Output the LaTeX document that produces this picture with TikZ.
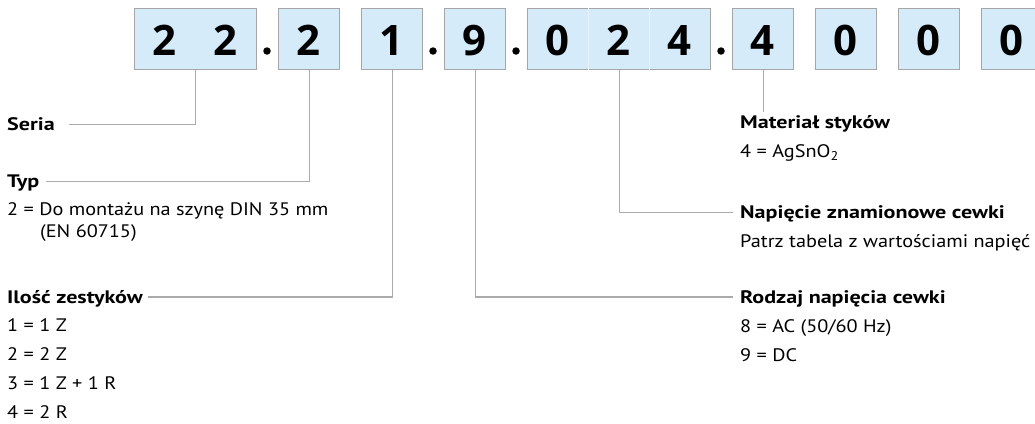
\documentclass[tikz,border=0pt]{standalone}
\usepackage{fontspec}
\setmainfont{PT Sans}
\newfontfamily\labfont{PT Sans}[FakeStretch=1.12]
\newfontfamily\headfont{PT Sans}[FakeStretch=1.22]
\newfontfamily\digitfont{Open Sans}
\definecolor{boxfill}{HTML}{D5EBF9}
\definecolor{boxline}{HTML}{A6A6A6}
\definecolor{connline}{HTML}{ABABAB}
\definecolor{divline}{HTML}{E6F3FC}
\tikzset{
  cellbox/.style={draw=boxline, fill=boxfill, line width=1.1pt, minimum height=61pt, inner sep=0pt, anchor=north west},
  digit/.style={font=\digitfont\bfseries\fontsize{42}{42}\selectfont, anchor=base, inner sep=0pt},
  dotsep/.style={fill=black, circle, minimum size=7.5pt, inner sep=0pt},
  conn/.style={draw=connline, line width=1.1pt},
  divider/.style={draw=divline, line width=1pt},
  head/.style={font=\headfont\bfseries\fontsize{18.1}{20}\selectfont, anchor=west, inner sep=0pt, text height=12.7pt, text depth=0pt},
  item/.style={font=\labfont\fontsize{18.1}{20}\selectfont, anchor=base west, inner sep=0pt}
}
\begin{document}
\begin{tikzpicture}[x=1pt,y=-1pt]
\useasboundingbox (0,0) rectangle (1035,423);
\clip (0,0) rectangle (1035,423);
% boxes
\node[cellbox, minimum width=122pt] (b22) at (134,8) {};
\node[cellbox, minimum width=61pt] (b2) at (278,8) {};
\node[cellbox, minimum width=61pt] (b1) at (361,8) {};
\node[cellbox, minimum width=61pt] (b9) at (444,8) {};
\node[cellbox, minimum width=183pt] (b024) at (527,8) {};
\node[cellbox, minimum width=61pt] (b4) at (732,8) {};
\node[cellbox, minimum width=61pt] (b0a) at (815,8) {};
\node[cellbox, minimum width=61pt] (b0b) at (898,8) {};
\node[cellbox, minimum width=61pt] (b0c) at (981,8) {};
\draw[divider] ([xshift=61pt]b024.north west) -- ([xshift=61pt]b024.south west);
\draw[divider] ([xshift=122pt]b024.north west) -- ([xshift=122pt]b024.south west);
% digits
\node[digit] (d1) at (164.5,55.5) {2};
\node[digit] (d2) at (225.5,55.5) {2};
\node[digit] (d3) at (308.5,55.5) {2};
\node[digit] (d4) at (391.5,55.5) {1};
\node[digit] (d5) at (474.5,55.5) {9};
\node[digit] (d6) at (557.5,55.5) {0};
\node[digit] (d7) at (618.5,55.5) {2};
\node[digit] (d8) at (679.5,55.5) {4};
\node[digit] (d9) at (762.5,55.5) {4};
\node[digit] (d10) at (845.5,55.5) {0};
\node[digit] (d11) at (928.5,55.5) {0};
\node[digit] (d12) at (1011.5,55.5) {0};
% separator dots
\node[dotsep] (p1) at (267,51) {};
\node[dotsep] (p2) at (433,51) {};
\node[dotsep] (p3) at (516,51) {};
\node[dotsep] (p4) at (721,51) {};
% left labels
\node[head] (seria) at (7,124.6) {Seria};
\node[head] (typ) at (7,181.5) {Typ};
\node[item] (typ1) at (7,215) {2 = Do montażu na szynę DIN 35 mm};
\node[item] (typ2) at (40,237) {(EN 60715)};
\node[head] (ilosc) at (7,297) {Ilość zestyków};
\node[item] (il1) at (7,331) {1 = 1 Z};
\node[item] (il2) at (7,360) {2 = 2 Z};
\node[item] (il3) at (7,389) {3 = 1 Z + 1 R};
\node[item] (il4) at (7,418) {4 = 2 R};
% right labels
\node[head] (mat) at (740,122.6) {Materiał styków};
\node[item] (mat1) at (740,157) {4 = AgSnO\textsubscript{2}};
\node[head] (nap) at (740,212.6) {Napięcie znamionowe cewki};
\node[item] (nap1) at (740,247) {Patrz tabela z wartościami napięć};
\node[head] (rodz) at (740,297) {Rodzaj napięcia cewki};
\node[item] (rodz1) at (740,332) {8 = AC (50/60 Hz)};
\node[item] (rodz2) at (740,361) {9 = DC};
% connectors
\draw[conn] (b22.south) |- ([xshift=14pt]seria.east);
\draw[conn] (b2.south) |- ([xshift=6pt]typ.east);
\draw[conn] (b1.south) |- ([xshift=5pt]ilosc.east);
\draw[conn] (b9.south) |- ([xshift=-7pt]rodz.west);
\draw[conn] (b024.south) |- ([xshift=-7pt]nap.west);
\draw[conn] (b4.south) -- ([yshift=4pt]b4.south |- mat.north);
\end{tikzpicture}
\end{document}
